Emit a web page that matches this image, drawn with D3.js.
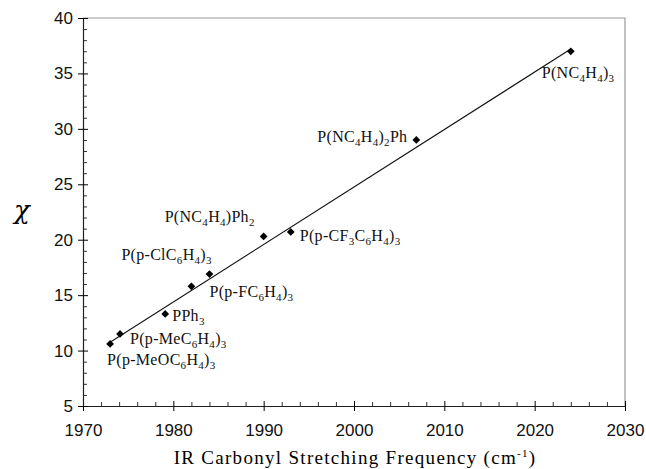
<!DOCTYPE html>
<html>
<head>
<meta charset="utf-8">
<script src="https://cdn.jsdelivr.net/npm/d3@7"></script>
<style>
  body { margin: 0; background: #fff; }
  .tick text { font-family: "Liberation Sans", Arial, sans-serif; font-size: 17px; fill: #111; }
  .lbl { font-family: "Liberation Serif", "Times New Roman", serif; font-size: 16px; fill: #111; letter-spacing: 0.3px; }
</style>
</head>
<body>
<svg id="chart" width="646" height="469"></svg>
<script>
// compound data: IR carbonyl frequency vs chi
const compounds = ['P(p-MeOC6H4)3', 'P(p-MeC6H4)3', 'PPh3', 'P(p-ClC6H4)3', 'P(p-FC6H4)3',
  'P(NC4H4)Ph2', 'P(p-CF3C6H4)3', 'P(NC4H4)2Ph', 'P(NC4H4)3'];
const freq = [1973.0, 1974.1, 1979.1, 1982.0, 1984.0, 1990.0, 1993.0, 2006.9, 2024.0];
const chi = [10.6, 11.5, 13.3, 15.8, 16.9, 20.3, 20.7, 29.0, 37.0];
// fitted line endpoints as drawn
const fitFreq = [1973.0, 2024.0];
const fitChi = [10.75, 37.2];
const xTicks = [1970, 1980, 1990, 2000, 2010, 2020, 2030];
const yTicks = [5, 10, 15, 20, 25, 30, 35, 40];

// label offsets from each point (px)
const labelOffsets = [[-3, 21], [10, 10], [7, 7], [-70, -26], [0, 23], [-99, -14], [9, 9], [-99, 2], [-29, 27]];

const svg = d3.select('#chart');

const x = d3.scaleLinear().domain([1970, 2030]).range([83, 625]);
const y = d3.scaleLinear().domain([5, 40]).range([406, 18]);

// frame (top/right)
svg.append('path')
  .attr('d', `M${x(1970)},${y(40)}H${x(2030)}V${y(5)}`)
  .attr('fill', 'none')
  .attr('stroke', '#999')
  .attr('stroke-width', 1.2);

// minor ticks
const xMinor = d3.range(1972, 2030, 2).filter(v => v % 10 !== 0);
const yMinor = d3.range(6, 40, 1).filter(v => v % 5 !== 0);

svg.append('g')
  .attr('transform', `translate(0,${y(5)})`)
  .call(d3.axisTop(x).tickValues(xMinor).tickSize(4).tickFormat(''))
  .call(g => g.select('.domain').remove())
  .selectAll('line').attr('stroke', '#333');

svg.append('g')
  .attr('transform', `translate(${x(1970)},0)`)
  .call(d3.axisRight(y).tickValues(yMinor).tickSize(4).tickFormat(''))
  .call(g => g.select('.domain').remove())
  .selectAll('line').attr('stroke', '#333');

// major axes
const xAxis = svg.append('g')
  .attr('transform', `translate(0,${y(5)})`)
  .call(d3.axisBottom(x).tickValues(xTicks).tickSize(5).tickSizeOuter(0).tickPadding(13).tickFormat(d3.format('d')));
xAxis.selectAll('.tick line').clone().attr('y2', -5);

const yAxis = svg.append('g')
  .attr('transform', `translate(${x(1970)},0)`)
  .call(d3.axisLeft(y).tickValues(yTicks).tickSize(5).tickSizeOuter(0).tickPadding(5));
yAxis.selectAll('.tick line').clone().attr('x2', 5);

svg.selectAll('.domain').attr('stroke', '#222').attr('stroke-width', 1.2);

// fit line
const line = d3.line().x(d => x(d[0])).y(d => y(d[1]));
svg.append('path')
  .attr('d', line(d3.zip(fitFreq, fitChi)))
  .attr('fill', 'none')
  .attr('stroke', '#111')
  .attr('stroke-width', 1.1);

// points (diamonds = rotated squares)
const pts = d3.zip(freq, chi);
svg.append('g').selectAll('path')
  .data(pts)
  .join('path')
  .attr('transform', d => `translate(${x(d[0])},${y(d[1])}) rotate(45)`)
  .attr('d', d3.symbol(d3.symbolSquare, 30))
  .attr('fill', '#000');

// labels with subscript digits
function addFormula(g, str) {
  const parts = str.match(/\d+|\D+/g);
  let shifted = false;
  parts.forEach(p => {
    const isSub = /\d/.test(p);
    const t = g.append('tspan').text(p);
    if (isSub && !shifted) { t.attr('dy', 4).attr('font-size', 11); shifted = true; }
    else if (isSub) { t.attr('font-size', 11); }
    else if (shifted) { t.attr('dy', -4); shifted = false; }
  });
}

compounds.forEach((c, i) => {
  const t = svg.append('text')
    .attr('class', 'lbl')
    .attr('x', x(freq[i]) + labelOffsets[i][0])
    .attr('y', y(chi[i]) + labelOffsets[i][1]);
  addFormula(t, c);
});

// axis titles
svg.append('text')
  .attr('x', 22).attr('y', 212)
  .attr('text-anchor', 'middle')
  .attr('dominant-baseline', 'middle')
  .attr('font-family', '"DejaVu Serif", serif')
  .attr('font-style', 'italic')
  .attr('font-size', 26)
  .text('χ');

const xt = svg.append('text')
  .attr('x', 355).attr('y', 464)
  .attr('text-anchor', 'middle')
  .attr('font-family', '"Liberation Serif", serif')
  .attr('font-size', 19)
  .attr('letter-spacing', 1.3);
xt.append('tspan').text('IR Carbonyl Stretching Frequency (cm');
xt.append('tspan').attr('dy', -7).attr('font-size', 11).text('-1');
xt.append('tspan').attr('dy', 7).text(')');
</script>
</body>
</html>
